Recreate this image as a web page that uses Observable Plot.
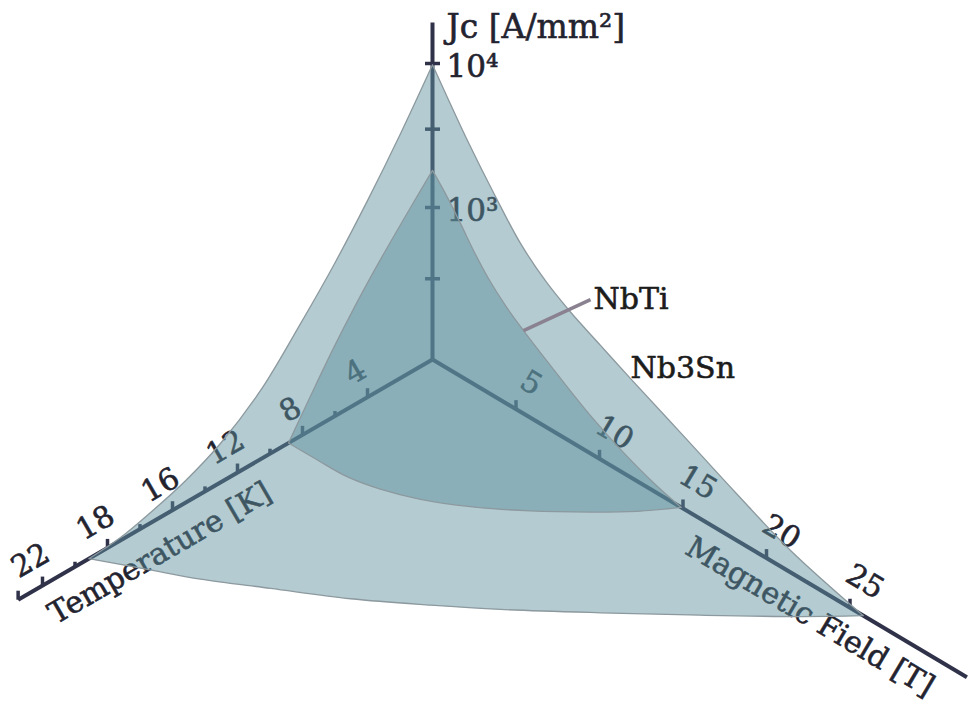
<!DOCTYPE html>
<html><head><meta charset="utf-8">
<script src="https://cdn.jsdelivr.net/npm/d3@7"></script>
<script src="https://cdn.jsdelivr.net/npm/@observablehq/plot@0.6"></script>
<style>body{margin:0;background:#fff;} svg{display:block;}</style>
</head><body><div id="chart"></div>
<script>
// ---------------- data ----------------
// Nb3Sn: Jc vs temperature at B = 0
const nb3snJcT_T = [0, 1.97, 4.0, 6.03, 8.12, 10.58, 13.05, 15.2, 17.35, 19.2, 21.15];
const nb3snJcT_J = [9800, 4380, 2040, 1010, 531, 264, 164, 125, 104, 92, 88];
// Nb3Sn: Jc vs magnetic field at T = 0
const nb3snJcB_B = [0, 0.9, 2.1, 3.77, 5.27, 6.77, 8.26, 10.06, 11.86, 14.85, 18.14, 21.44, 25.8];
const nb3snJcB_J = [9800, 6680, 4060, 2170, 1300, 905, 698, 545, 426, 289, 187, 125, 88];
// Nb3Sn: critical field vs temperature (bottom edge)
const nb3snBT_T = [21.15, 19.94, 18.74, 17.04, 15.09, 12.93, 10.98, 8.04, 5.05, 2.0, 0];
const nb3snBT_B = [0, 2.16, 4.34, 6.88, 9.78, 12.47, 14.75, 17.88, 20.96, 23.99, 25.8];
// NbTi
const nbtiJcT_T = [0, 1.0, 1.99, 3.43, 4.8, 6.09, 7.3, 8.09, 8.86];
const nbtiJcT_J = [1810, 1355, 1016, 656, 419, 264, 165, 120, 88];
const nbtiJcB_B = [0, 0.9, 1.68, 2.46, 3.35, 4.37, 5.45, 7.07, 9.46, 11.44, 13.47, 14.9];
const nbtiJcB_J = [1810, 1352, 1009, 741, 547, 417, 332, 245, 161, 122, 98, 88];
const nbtiBT_T = [8.86, 8.85, 8.8, 8.42, 7.7, 6.53, 4.88, 3.07, 1.6, 0];
const nbtiBT_B = [0, 1.6, 3.48, 5.07, 6.78, 8.63, 10.62, 12.45, 13.77, 14.9];

// axes / ticks
const jcAxisMin = 88;            // Jc at the origin
const jcAxisMax = 19300;
const tempAxisMax = 25.5;
const fieldAxisMax = 32;
const tempTickPos = [4, 8, 12, 16, 20, 24];
const tempTickLabels = ["4", "8", "12", "16", "18", "22"];
const tempMinorTicks = [6, 10, 14, 18, 22];
const fieldTicks = [5, 10, 15, 20, 25];
const jcTicks = [10000, 3500, 1000, 320];
const jcTickLabels = [{J: 10000, label: "10⁴"}, {J: 1000, label: "10³"}];
const nbtiLabelAt = {T: 0, B: 5.45, J: 332};
const nb3snLabelAt = {T: 0, B: 11.86, J: 426};

// ---------------- oblique projection ----------------
const view = {ox: 432, oy: 359, eT: [-16.25, 9.42], eB: [16.7, 9.93], decade: 144};
const px = d => view.ox + d.T * view.eT[0] + d.B * view.eB[0];
const py = d => view.oy + d.T * view.eT[1] + d.B * view.eB[1] - Math.log10(d.J / jcAxisMin) * view.decade;

const jcT = (Ts, Js) => Ts.map((t, i) => ({T: t, B: 0, J: Js[i]}));
const jcB = (Bs, Js) => Bs.map((b, i) => ({T: 0, B: b, J: Js[i]}));
const bT = (Ts, Bs) => Ts.map((t, i) => ({T: t, B: Bs[i], J: jcAxisMin}));
const surface = (a, b, c) => [...a, ...b, ...c.slice().reverse()];

const nb3sn = surface(jcT(nb3snJcT_T, nb3snJcT_J), bT(nb3snBT_T, nb3snBT_B), jcB(nb3snJcB_B, nb3snJcB_J));
const nbti = surface(jcT(nbtiJcT_T, nbtiJcT_J), bT(nbtiBT_T, nbtiBT_B), jcB(nbtiJcB_B, nbtiJcB_J));

// closed curve: smooth (Catmull-Rom) along each edge, sharp at shared vertices
function edgeCurve(context) {
  let pts;
  return {
    areaStart() {}, areaEnd() {},
    lineStart() { pts = []; },
    point(x, y) { pts.push([+x, +y]); },
    lineEnd() {
      const runs = []; let cur = [pts[0]];
      for (let i = 1; i < pts.length; i++) {
        const p = pts[i], q = pts[i - 1];
        if (Math.abs(p[0] - q[0]) < 1e-6 && Math.abs(p[1] - q[1]) < 1e-6) { runs.push(cur); cur = [p]; }
        else cur.push(p);
      }
      runs.push(cur);
      let first = true;
      const proxy = {
        moveTo(x, y) { if (first) { context.moveTo(x, y); first = false; } else context.lineTo(x, y); },
        lineTo(x, y) { context.lineTo(x, y); },
        bezierCurveTo(a, b, c, d, e, f) { context.bezierCurveTo(a, b, c, d, e, f); },
        closePath() {}
      };
      for (const r of runs) {
        if (r.length < 2) continue;
        const c = d3.curveCatmullRom.alpha(0.5)(proxy);
        c.lineStart(); for (const p of r) c.point(p[0], p[1]); c.lineEnd();
      }
      context.closePath();
    }
  };
}

const O = {T: 0, B: 0, J: jcAxisMin};
const axes = [
  {a: O, b: {T: tempAxisMax, B: 0, J: jcAxisMin}},
  {a: O, b: {T: 0, B: fieldAxisMax, J: jcAxisMin}},
  {a: O, b: {T: 0, B: 0, J: jcAxisMax}}
];
const tMajor = [...tempTickPos, tempAxisMax].map(t => ({T: t, B: 0, J: jcAxisMin}));
const tMinor = tempMinorTicks.map(t => ({T: t, B: 0, J: jcAxisMin}));
const bMajor = fieldTicks.map(b => ({T: 0, B: b, J: jcAxisMin}));
const jMajor = jcTicks.map(j => ({T: 0, B: 0, J: j}));
const tLabels = tempTickPos.map((t, i) => ({T: t, B: 0, J: jcAxisMin, label: tempTickLabels[i]}));
const bLabels = fieldTicks.map(b => ({T: 0, B: b, J: jcAxisMin, label: String(b)}));
const jLabels = jcTickLabels.map(d => ({T: 0, B: 0, J: d.J, label: d.label}));

const AX = "#30324a", TXT = "#23232f";
const font = "DejaVu Serif";
const bold = {stroke: TXT, strokeWidth: 0.6, paintOrder: "stroke"};

const chart = Plot.plot({
  width: 970, height: 702, margin: 0,
  x: {type: "linear", domain: [0, 970], range: [0, 970], axis: null},
  y: {type: "linear", domain: [0, 702], range: [0, 702], axis: null},
  style: {fontFamily: font, background: "#fff"},
  marks: [
    // axes
    Plot.link(axes, {x1: d => px(d.a), y1: d => py(d.a), x2: d => px(d.b), y2: d => py(d.b), stroke: AX, strokeWidth: 4, strokeLinecap: "butt"}),
    Plot.link(tMajor, {x1: px, y1: py, x2: px, y2: d => py(d) - 9, stroke: AX, strokeWidth: 3.5}),
    Plot.link(tMinor, {x1: px, y1: py, x2: px, y2: d => py(d) - 5, stroke: AX, strokeWidth: 3.5}),
    Plot.link(bMajor, {x1: px, y1: py, x2: px, y2: d => py(d) - 9, stroke: AX, strokeWidth: 3.5}),
    Plot.link(jMajor, {x1: d => px(d) - 7.5, y1: py, x2: d => px(d) + 7.5, y2: py, stroke: AX, strokeWidth: 3.5}),
    // tick labels
    Plot.text(tLabels, {x: px, y: py, text: "label", rotate: -30, dx: -12, dy: -25, fontSize: 30, fill: TXT, ...bold, textAnchor: "middle", lineAnchor: "middle"}),
    Plot.text(bLabels, {x: px, y: py, text: "label", rotate: 30.7, dx: 15, dy: -26, fontSize: 30, fill: TXT, ...bold, textAnchor: "middle", lineAnchor: "middle"}),
    Plot.text(jLabels, {x: px, y: py, text: "label", dx: 14, dy: 4, fontSize: 31, fill: TXT, ...bold, textAnchor: "start", lineAnchor: "middle"}),
    // axis titles
    Plot.text([{T: 17.7, B: 0, J: jcAxisMin}], {x: px, y: py, text: () => "Temperature [K]", rotate: -30.1, dx: 15, dy: 27, fontSize: 30, fill: TXT, ...bold, textAnchor: "middle", lineAnchor: "middle"}),
    Plot.text([{T: 0, B: 23.5, J: jcAxisMin}], {x: px, y: py, text: () => "Magnetic Field [T]", rotate: 30.7, dx: -15, dy: 24, fontSize: 30, fill: TXT, ...bold, textAnchor: "middle", lineAnchor: "middle"}),
    Plot.text([{T: 0, B: 0, J: jcAxisMax}], {x: px, y: py, text: () => "Jc [A/mm²]", dx: 14, dy: 5, fontSize: 33, fill: TXT, ...bold, textAnchor: "start", lineAnchor: "middle"}),
    // critical surfaces
    Plot.line(nb3sn, {x: px, y: py, curve: edgeCurve, fill: "#5d919e", fillOpacity: 0.47, stroke: "#8c999e", strokeWidth: 1.3}),
    Plot.line(nbti, {x: px, y: py, curve: edgeCurve, fill: "#5d919e", fillOpacity: 0.47, stroke: "#8c999e", strokeWidth: 1.3}),
    // labels
    Plot.link([nbtiLabelAt], {x1: px, y1: py, x2: d => px(d) + 67, y2: d => py(d) - 31, stroke: "#8b8291", strokeWidth: 3.5, strokeLinecap: "butt"}),
    Plot.text([nbtiLabelAt], {x: px, y: py, text: () => "NbTi", dx: 70, dy: -31, fontSize: 30, fill: "#1c1c1c", stroke: "#1c1c1c", strokeWidth: 0.6, paintOrder: "stroke", textAnchor: "start", lineAnchor: "middle"}),
    Plot.text([nb3snLabelAt], {x: px, y: py, text: () => "Nb3Sn", dx: 0, dy: -10, fontSize: 30, fill: "#1c1c1c", stroke: "#1c1c1c", strokeWidth: 0.6, paintOrder: "stroke", textAnchor: "start", lineAnchor: "middle"})
  ]
});
document.getElementById("chart").appendChild(chart);
</script>
</body></html>
